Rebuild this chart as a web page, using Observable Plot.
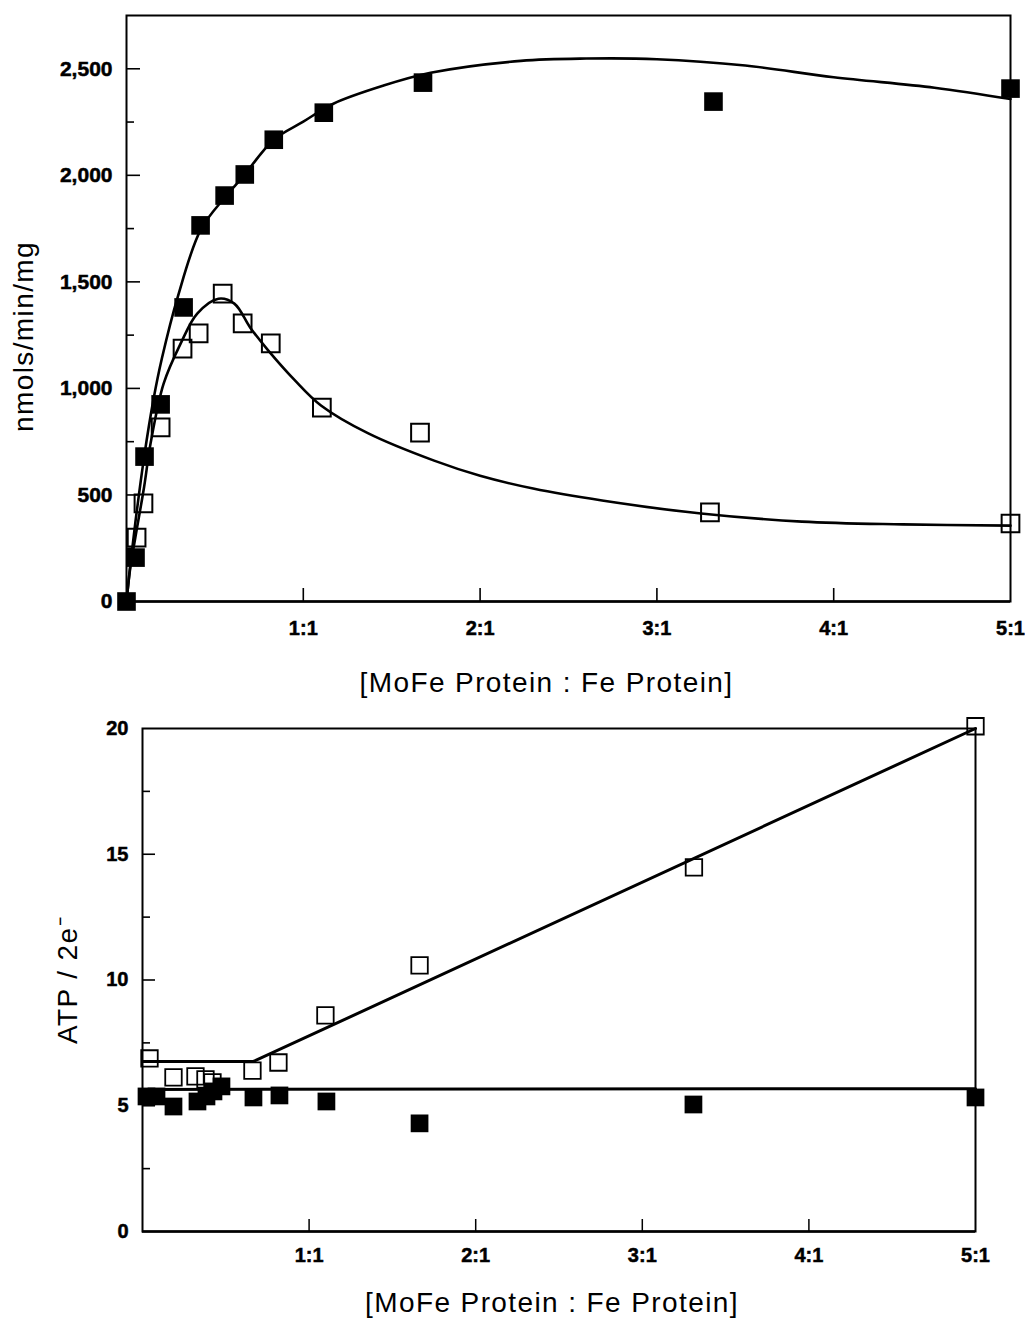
<!DOCTYPE html>
<html>
<head>
<meta charset="utf-8">
<script src="https://cdn.jsdelivr.net/npm/d3@7"></script>
<script src="https://cdn.jsdelivr.net/npm/@observablehq/plot@0.6"></script>
<style>
  html, body { margin: 0; padding: 0; background: #fff; }
  #chart svg { display: block; }
</style>
</head>
<body>
<div id="chart"></div>
<script>
// ---------- Top panel data (nmols/min/mg vs [MoFe : Fe]) ----------
const topFilledRatio = [0, 0.051, 0.102, 0.193, 0.323, 0.419, 0.555, 0.669, 0.833, 1.116, 1.677, 3.32, 5.0];
const topFilledRate  = [0, 206, 680, 925, 1380, 1765, 1905, 2004, 2167, 2294, 2435, 2346, 2407];
const topOpenRatio   = [0.057, 0.096, 0.193, 0.317, 0.408, 0.544, 0.657, 0.816, 1.105, 1.66, 3.30, 5.0];
const topOpenRate    = [300, 460, 817, 1187, 1258, 1445, 1305, 1211, 910, 793, 418, 366];
// fitted curves
const topFitFilledX = [0, 0.02, 0.05, 0.1, 0.153, 0.2, 0.29, 0.42, 0.555, 0.66, 0.83, 1.0, 1.17, 1.45, 1.72, 2.23, 2.6, 3.0, 3.5, 4.0, 4.57, 5.0];
const topFitFilledY = [0, 160, 370, 680, 950, 1140, 1430, 1745, 1895, 1995, 2165, 2252, 2336, 2420, 2481, 2537, 2548, 2545, 2515, 2460, 2411, 2358];
const topFitOpenX = [0, 0.02, 0.05, 0.1, 0.136, 0.21, 0.306, 0.40, 0.52, 0.61, 0.70, 0.80, 0.95, 1.10, 1.365, 1.74, 2.0, 2.3, 2.69, 3.25, 3.82, 4.39, 5.0];
const topFitOpenY = [0, 150, 300, 540, 741, 1022, 1210, 1351, 1421, 1398, 1285, 1180, 1040, 920, 790, 661, 590, 530, 474, 413, 375, 362, 356];
const topYMajor = [500, 1000, 1500, 2000, 2500];
const topYMinor = [250, 750, 1250, 1750, 2250];
const topYLabels = [0, 500, 1000, 1500, 2000, 2500];

// ---------- Bottom panel data (ATP / 2e- vs [MoFe : Fe]) ----------
const botOpenRatio   = [0.042, 0.186, 0.318, 0.378, 0.42, 0.66, 0.816, 1.098, 1.663, 3.31, 5.0];
const botOpenATP     = [6.88, 6.13, 6.17, 6.05, 5.93, 6.40, 6.72, 8.59, 10.58, 14.48, 20.09];
const botFilledRatio = [0.024, 0.084, 0.186, 0.33, 0.384, 0.426, 0.474, 0.666, 0.822, 1.104, 1.663, 3.307, 5.0];
const botFilledATP   = [5.37, 5.37, 4.97, 5.17, 5.37, 5.57, 5.77, 5.33, 5.41, 5.17, 4.30, 5.05, 5.33];
const botFitOpenX = [0, 0.666, 5];
const botFitOpenY = [6.76, 6.76, 20.0];
const botFitFilledX = [0, 5];
const botFitFilledY = [5.65, 5.68];
const botYMajor = [5, 10, 15];
const botYMinor = [2.5, 7.5, 12.5, 17.5];
const botYLabels = [0, 5, 10, 15, 20];

// shared x ticks
const xTickMarks = [1, 2, 3, 4];
const xTickLabels = [1, 2, 3, 4, 5];
const xLabelText = "[MoFe Protein : Fe Protein]";

const FF = "'Liberation Sans', Arial, Helvetica, sans-serif";
const pts = (xs, ys) => xs.map((x, i) => ({x, y: ys[i]}));
const yTicks = (major, minor) => [...major.map(v => ({v, major: true})), ...minor.map(v => ({v, major: false}))];

// ---------- Top plot ----------
const T = {w: 1025, h: 705, ml: 126, mr: 15, mt: 15, mb: 104, ymax: 2750};
const tPW = T.w - T.ml - T.mr, tPH = T.h - T.mt - T.mb;
const topPlot = Plot.plot({
  width: T.w, height: T.h,
  marginLeft: T.ml, marginRight: T.mr, marginTop: T.mt, marginBottom: T.mb,
  style: {fontFamily: FF, fontSize: "20px", fontWeight: "bold", color: "black", background: "white", overflow: "visible"},
  x: {domain: [0, 5]},
  y: {domain: [0, T.ymax]},
  marks: [
    Plot.frame({stroke: "black", strokeWidth: 2}),
    Plot.ruleY([0], {stroke: "black", strokeWidth: 2.6}),
    Plot.ruleX(xTickMarks, {y1: 0, y2: 13 * T.ymax / tPH, stroke: "black", strokeWidth: 1.6}),
    Plot.ruleY(yTicks(topYMajor, topYMinor), {y: "v", x1: 0, x2: d => (d.major ? 14 : 8) * 5 / tPW, stroke: "black", strokeWidth: 1.6}),
    Plot.axisX({ticks: xTickLabels, tickSize: 0, tickPadding: 19, tickFormat: d => d + ":1", label: null, fontSize: 20, fontWeight: "bold"}),
    Plot.axisY({ticks: topYLabels, tickSize: 0, tickPadding: 14, tickFormat: d3.format(","), label: null, fontSize: 21, fontWeight: "bold"}),
    Plot.line(pts(topFitFilledX, topFitFilledY), {x: "x", y: "y", curve: "catmull-rom", stroke: "black", strokeWidth: 2.6}),
    Plot.line(pts(topFitOpenX, topFitOpenY), {x: "x", y: "y", curve: "catmull-rom", stroke: "black", strokeWidth: 2.6}),
    Plot.dot(pts(topFilledRatio, topFilledRate), {x: "x", y: "y", symbol: "square", r: 10.5, fill: "black", stroke: "none"}),
    Plot.dot(pts(topOpenRatio, topOpenRate), {x: "x", y: "y", symbol: "square", r: 10, fill: "none", stroke: "black", strokeWidth: 2}),
    Plot.text([xLabelText], {text: d => d, frameAnchor: "bottom", dx: -22, dy: 82, lineAnchor: "middle", textAnchor: "middle", fontSize: 28, fontWeight: "normal"}),
    Plot.text(["nmols/min/mg"], {text: d => d, frameAnchor: "left", dx: -102, dy: 28, rotate: -90, lineAnchor: "middle", textAnchor: "middle", fontSize: 28, fontWeight: "normal"})
  ]
});

// ---------- Bottom plot ----------
const B = {w: 1025, h: 613, ml: 142, mr: 50, mt: 23, mb: 87, ymax: 20};
const bPW = B.w - B.ml - B.mr, bPH = B.h - B.mt - B.mb;
const botPlot = Plot.plot({
  width: B.w, height: B.h,
  marginLeft: B.ml, marginRight: B.mr, marginTop: B.mt, marginBottom: B.mb,
  style: {fontFamily: FF, fontSize: "19px", fontWeight: "bold", color: "black", background: "white", overflow: "visible"},
  x: {domain: [0, 5]},
  y: {domain: [0, B.ymax]},
  marks: [
    Plot.frame({stroke: "black", strokeWidth: 2}),
    Plot.ruleY([0], {stroke: "black", strokeWidth: 2.6}),
    Plot.ruleX(xTickMarks, {y1: 0, y2: 12 * B.ymax / bPH, stroke: "black", strokeWidth: 1.5}),
    Plot.ruleY(yTicks(botYMajor, botYMinor), {y: "v", x1: 0, x2: d => (d.major ? 13 : 8) * 5 / bPW, stroke: "black", strokeWidth: 1.6}),
    Plot.axisX({ticks: xTickLabels, tickSize: 0, tickPadding: 16, tickFormat: d => d + ":1", label: null, fontSize: 20, fontWeight: "bold"}),
    Plot.axisY({ticks: botYLabels, tickSize: 0, tickPadding: 14, tickFormat: d => String(d), label: null, fontSize: 20, fontWeight: "bold"}),
    Plot.line(pts(botFitFilledX, botFitFilledY), {x: "x", y: "y", stroke: "black", strokeWidth: 3}),
    Plot.line(pts(botFitOpenX, botFitOpenY), {x: "x", y: "y", stroke: "black", strokeWidth: 3}),
    Plot.dot(pts(botFilledRatio, botFilledATP), {x: "x", y: "y", symbol: "square", r: 10, fill: "black", stroke: "none"}),
    Plot.dot(pts(botOpenRatio, botOpenATP), {x: "x", y: "y", symbol: "square", r: 9.3, fill: "none", stroke: "black", strokeWidth: 1.8}),
    Plot.text([xLabelText], {text: d => d, frameAnchor: "bottom", dx: -7, dy: 72, lineAnchor: "middle", textAnchor: "middle", fontSize: 28, fontWeight: "normal"}),
    Plot.text(["ATP / 2e\u207B"], {text: d => d, frameAnchor: "left", dx: -74, dy: 0, rotate: -90, lineAnchor: "middle", textAnchor: "middle", fontSize: 28, fontWeight: "normal"})
  ]
});

const chart = document.getElementById("chart");
chart.appendChild(topPlot);
chart.appendChild(botPlot);

for (const svg of [topPlot, botPlot]) {
  // widen the spacing of the large axis titles, as in the original
  d3.select(svg).selectAll("text")
    .filter(function () { const t = this.textContent; return t === xLabelText || t === "nmols/min/mg" || t.startsWith("ATP"); })
    .attr("letter-spacing", "1.4px");
  // heavier tick labels, as in the original print
  d3.select(svg).selectAll("g[aria-label$='tick label']")
    .attr("stroke", "black").attr("stroke-width", 0.5);
}
</script>
</body>
</html>
